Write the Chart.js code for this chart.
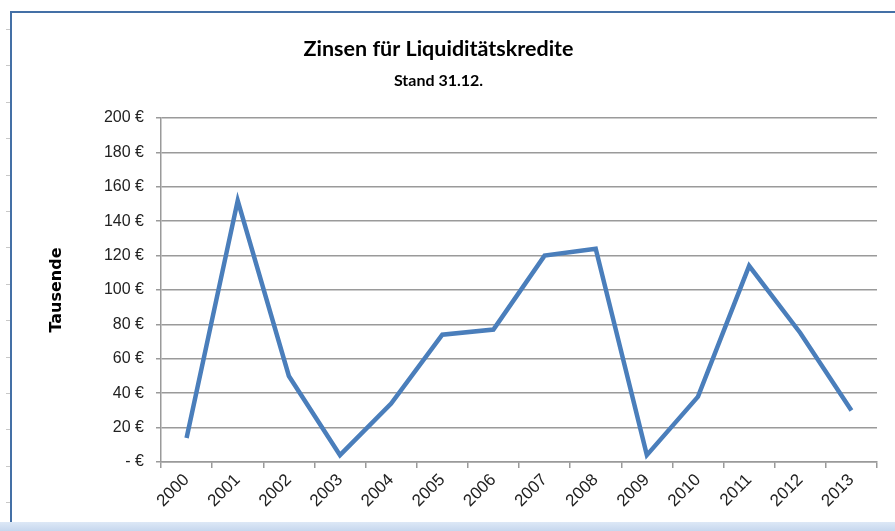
<!DOCTYPE html>
<html>
<head>
<meta charset="utf-8">
<script src="https://cdn.jsdelivr.net/npm/chart.js"></script>
<style>
  html, body { margin: 0; padding: 0; background: #fff; }
  body { width: 895px; height: 531px; position: relative; overflow: hidden; }
  #frame { position: absolute; left: 10px; top: 11px; right: -4px; bottom: -4px; border: 2px solid #4470a6; }
  #ruler { position: absolute; left: 6px; top: 29px; width: 4px; height: 490px;
    background: repeating-linear-gradient(to bottom, #c8c8c8 0, #c8c8c8 1px, transparent 1px, transparent 36.4px); }
  #band { position: absolute; left: 0; right: 0; bottom: 0; height: 9px;
    background: linear-gradient(to bottom, #dde8f6, #c6d7ee); }
  #wrap { position: absolute; left: 0; top: 0; width: 895px; height: 531px; }
</style>
</head>
<body>
<div id="ruler"></div>
<div id="frame"></div>
<div id="band"></div>
<div id="wrap"><canvas id="zinsChart" width="895" height="531"></canvas></div>
<script>
const years = ["2000", "2001", "2002", "2003", "2004", "2005", "2006",
               "2007", "2008", "2009", "2010", "2011", "2012", "2013"];
const zinsen = [14, 152, 50, 4, 34, 74, 77, 120, 124, 4, 38, 114, 75, 30];
const yTicks = [0, 20, 40, 60, 80, 100, 120, 140, 160, 180, 200];

const ctx = document.getElementById("zinsChart").getContext("2d");

new Chart(ctx, {
    type: "line",
    data: {
        labels: years,
        datasets: [{
            label: "Zinsen",
            data: zinsen,
            borderColor: "#4a7ebb",
            borderWidth: 4.5,
            tension: 0,
            fill: false,
            pointRadius: 0
        }]
    },
    options: {
        responsive: false,
        animation: false,
        layout: { padding: { left: 0, right: 18, top: 0, bottom: 0 } },
        plugins: {
            legend: { display: false },
            tooltip: { enabled: false },
            title: {
                display: true,
                text: "Zinsen für Liquiditätskredite",
                color: "#000",
                font: { family: "Lato", size: 21.5, weight: "bold" },
                padding: { top: 36, bottom: 9 }
            },
            subtitle: {
                display: true,
                text: "Stand 31.12.",
                color: "#000",
                font: { family: "Lato", size: 16, weight: "bold" },
                padding: { top: 0, bottom: 28 }
            }
        },
        scales: {
            x: {
                offset: true,
                grid: { display: true, offset: true, drawOnChartArea: false, drawTicks: true, tickLength: 6, color: "#9a9a9a", lineWidth: 1.5 },
                border: { color: "#9a9a9a", width: 1.5 },
                ticks: {
                    color: "#222",
                    font: { family: "Liberation Sans", size: 17 },
                    minRotation: 45,
                    maxRotation: 45,
                    autoSkip: false,
                    padding: 2
                },
                afterFit: s => { s.height = 69; }
            },
            y: {
                min: 0,
                max: 200,
                afterBuildTicks: s => { s.ticks = yTicks.map(v => ({ value: v })); },
                grid: { color: "#9a9a9a", lineWidth: 1.5, tickLength: 5 },
                border: { color: "#9a9a9a", width: 1.5 },
                ticks: {
                    color: "#222",
                    font: { family: "Liberation Sans", size: 16 },
                    padding: 12,
                    callback: v => v === 0 ? "- €" : v + " €"
                },
                title: {
                    display: true,
                    text: "Tausende",
                    color: "#000",
                    font: { family: "DejaVu Sans", size: 16, weight: "bold" },
                    padding: { top: 47, bottom: 0 }
                },
                afterFit: s => { s.width = 161; }
            }
        }
    }
});
</script>
</body>
</html>
